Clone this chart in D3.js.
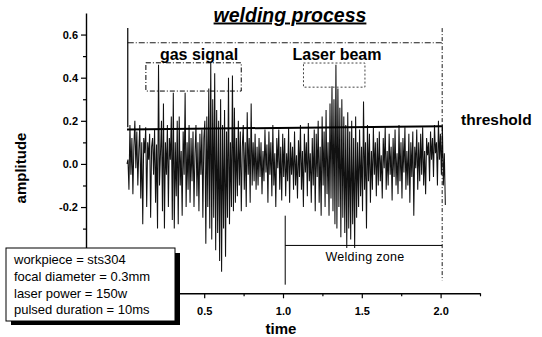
<!DOCTYPE html>
<html>
<head>
<meta charset="utf-8">
<script src="https://cdn.jsdelivr.net/npm/d3@7"></script>
<style>
  body { margin: 0; background: #fff; }
  svg text { font-family: "Liberation Sans", Arial, sans-serif; }
</style>
</head>
<body>
<div class="chart"></div>
<script>
const sampleStart = 0.01;
const sampleEnd = 2.03;
const amplitude = [
  0, 0.02, -0.12, 0.18, -0.05, 0.12, -0.14, 0.08, 0.20, -0.02, 0.15, -0.10, 0.06, 0.18, -0.16, 0.10,
  -0.28, 0.12, 0.05, 0.17, -0.20, 0.10, 0.02, 0.14, -0.25, 0.08, 0.12, -0.05, 0.16, -0.18, 0.09, -0.30,
  0.46, -0.10, 0.05, 0.20, -0.22, 0.28, -0.30, 0.10, -0.05, 0.18, -0.20, 0.12, 0.02, 0.22, -0.26, 0.33,
  -0.30, 0.10, -0.15, 0.20, -0.28, 0.22, -0.10, 0.06, -0.24, 0.15, -0.05, 0.33, -0.20, 0.10, -0.12, 0.18,
  -0.18, 0.12, -0.08, 0.15, -0.20, 0.05, 0.18, -0.15, 0.10, -0.22, 0.14, -0.05, 0.16, -0.25, 0.12, 0.20,
  -0.37, 0.22, -0.20, 0.35, -0.30, 0.47, -0.35, 0.30, -0.25, 0.42, -0.40, 0.25, -0.32, 0.20, -0.45, 0.30,
  -0.50, 0.18, -0.30, 0.25, -0.43, 0.15, -0.25, 0.40, -0.28, 0.10, -0.20, 0.41, -0.22, 0.26, -0.18, 0.12,
  -0.15, 0.20, -0.10, 0.15, -0.22, 0.08, 0.18, -0.12, 0.10, -0.20, 0.24, -0.05, 0.12, -0.18, 0.28, -0.10,
  0.10, -0.08, 0.14, -0.12, 0.08, -0.10, 0.12, -0.06, 0.10, -0.14, 0.06, -0.08, 0.16, -0.04, 0.09, -0.18,
  0.15, -0.05, 0.10, -0.15, 0.18, -0.10, 0.05, -0.20, 0.12, -0.02, 0.16, -0.12, 0.08, -0.17, 0.14, -0.06,
  0.12, -0.15, 0.05, -0.08, 0.17, -0.18, 0.10, -0.05, 0.08, -0.12, 0.15, -0.10, 0.04, -0.16, 0.11, -0.06,
  0.18, -0.12, 0.06, -0.20, 0.14, -0.04, 0.10, -0.15, 0.19, -0.08, 0.05, -0.18, 0.12, -0.10, 0.16, -0.22,
  0.14, -0.06, 0.20, -0.18, 0.08, -0.24, 0.22, -0.10, 0.15, -0.20, 0.25, -0.14, 0.10, -0.24, 0.28, -0.16,
  0.36, -0.22, 0.30, -0.28, 0.46, -0.30, 0.35, -0.20, 0.26, -0.34, 0.30, -0.25, 0.22, -0.32, 0.18, -0.39,
  0.24, -0.30, 0.15, -0.35, 0.20, -0.28, 0.12, -0.39, 0.22, -0.25, 0.10, -0.20, 0.16, -0.15, 0.08, -0.22,
  0.29, -0.12, 0.10, -0.30, 0.18, -0.08, 0.14, -0.18, 0.06, -0.12, 0.17, -0.05, 0.10, -0.15, 0.12, -0.10,
  0.15, -0.08, 0.04, -0.16, 0.12, -0.02, 0.17, -0.12, 0.06, -0.10, 0.14, -0.05, 0.08, -0.17, 0.12, -0.06,
  0.16, -0.10, 0.05, -0.14, 0.18, -0.08, 0.10, -0.16, 0.12, -0.04, 0.17, -0.12, 0.06, -0.10, 0.14, -0.18,
  0.10, -0.06, 0.15, -0.24, 0.08, -0.02, 0.16, -0.12, 0.10, -0.08, 0.14, -0.05, 0.17, -0.10, 0.06, -0.14,
  0.12, 0.04, 0.10, -0.08, 0.15, 0.02, 0.12, -0.06, 0.18, 0.05, 0.10, -0.10, 0.20, 0.02, 0.14, -0.05,
  0.18, -0.10, 0.05, -0.19
];

// threshold line end points (time, amplitude)
const thresholdTime = [0.01, 2.01];
const thresholdValue = [0.16, 0.175];

// axis ticks (labels only where the reference shows them, the rest sit under the info box)
const xMajorTicks = [0, 0.5, 1.0, 1.5, 2.0];
const xLabelled = [0.5, 1.0, 1.5, 2.0];
const xMinorTicks = [-0.25, 0.25, 0.75, 1.25, 1.75, 2.25];
const yMajorTicks = [-0.6, -0.4, -0.2, 0.0, 0.2, 0.4, 0.6];
const yLabelled = [-0.2, 0.0, 0.2, 0.4, 0.6];
const yMinorTicks = [-0.5, -0.3, -0.1, 0.1, 0.3, 0.5];

const infoLines = [
  'workpiece = sts304',
  'focal diameter = 0.3mm',
  'laser power = 150w',
  'pulsed duration = 10ms'
];

const width = 542, height = 337;

let svg = d3.select('.chart').append('svg')
  .attr('width', width)
  .attr('height', height);

let x = d3.scaleLinear().domain([-0.25, 2.25]).range([86, 480]);
let y = d3.scaleLinear().domain([-0.6, 0.7]).range([293.3, 13]);

let isLabelled = (list, d) => list.some((v) => Math.abs(v - d) < 1e-9);

// title
svg.append('text')
  .attr('x', 290).attr('y', 21.5)
  .attr('text-anchor', 'middle')
  .attr('font-size', 19.5).attr('font-weight', 'bold').attr('font-style', 'italic')
  .attr('text-decoration', 'underline')
  .text('welding process');

// axes
let xAxis = svg.append('g')
  .attr('transform', 'translate(0,' + y(-0.6) + ')')
  .call(d3.axisBottom(x).tickValues(xMajorTicks).tickSize(5).tickSizeOuter(0)
    .tickFormat((d) => isLabelled(xLabelled, d) ? d.toFixed(1) : ''));
svg.append('g')
  .attr('transform', 'translate(0,' + y(-0.6) + ')')
  .call(d3.axisBottom(x).tickValues(xMinorTicks).tickSize(3).tickFormat(''))
  .select('.domain').remove();

let yAxis = svg.append('g')
  .attr('transform', 'translate(' + x(-0.25) + ',0)')
  .call(d3.axisLeft(y).tickValues(yMajorTicks).tickSize(5).tickSizeOuter(0)
    .tickFormat((d) => isLabelled(yLabelled, d) ? d.toFixed(1) : ''));
svg.append('g')
  .attr('transform', 'translate(' + x(-0.25) + ',0)')
  .call(d3.axisLeft(y).tickValues(yMinorTicks).tickSize(3).tickFormat(''))
  .select('.domain').remove();

svg.selectAll('.domain').attr('stroke', '#000').attr('stroke-width', 1.4);
svg.selectAll('.tick line').attr('stroke', '#000').attr('stroke-width', 1.2);
svg.selectAll('.tick text')
  .attr('font-size', 11).attr('font-weight', 'bold')
  .attr('font-family', '"Liberation Sans", Arial, sans-serif')
  .attr('fill', '#000');
xAxis.selectAll('.tick text').attr('dy', '1.25em');

// axis labels
svg.append('text')
  .attr('x', 281).attr('y', 334)
  .attr('text-anchor', 'middle')
  .attr('font-size', 15).attr('font-weight', 'bold')
  .text('time');

svg.append('text')
  .attr('transform', 'translate(26,168)rotate(-90)')
  .attr('text-anchor', 'middle')
  .attr('font-size', 15).attr('font-weight', 'bold')
  .text('amplitude');

// signal
let step = (sampleEnd - sampleStart) / (amplitude.length - 1);
let line = d3.line()
  .x((d, i) => x(sampleStart + i * step))
  .y((d) => y(d));

svg.append('path')
  .datum(amplitude)
  .attr('d', line)
  .attr('fill', 'none')
  .attr('stroke', '#111')
  .attr('stroke-width', 1.05);

// region markers
svg.append('line')
  .attr('x1', x(0.015)).attr('x2', x(0.015))
  .attr('y1', y(0.63)).attr('y2', y(0.17))
  .attr('stroke', '#000').attr('stroke-width', 1.2);
svg.append('line')
  .attr('x1', x(0.015)).attr('x2', x(2.01))
  .attr('y1', y(0.562)).attr('y2', y(0.562))
  .attr('stroke', '#000').attr('stroke-width', 0.9)
  .attr('stroke-dasharray', '6,2,1,2');
svg.append('line')
  .attr('x1', x(2.01)).attr('x2', x(2.01))
  .attr('y1', y(0.63)).attr('y2', y(-0.54))
  .attr('stroke', '#000').attr('stroke-width', 0.9)
  .attr('stroke-dasharray', '4,2,1,2');

// gas signal box
svg.append('rect')
  .attr('x', x(0.13)).attr('y', y(0.469))
  .attr('width', x(0.735) - x(0.13)).attr('height', y(0.338) - y(0.469))
  .attr('fill', 'none').attr('stroke', '#000').attr('stroke-width', 1)
  .attr('stroke-dasharray', '5,2,1,2');
svg.append('text')
  .attr('x', 199).attr('y', 60)
  .attr('text-anchor', 'middle')
  .attr('font-size', 16).attr('font-weight', 'bold')
  .text('gas signal');

// laser beam box
svg.append('rect')
  .attr('x', x(1.13)).attr('y', y(0.468))
  .attr('width', x(1.52) - x(1.13)).attr('height', y(0.356) - y(0.468))
  .attr('fill', 'none').attr('stroke', '#444').attr('stroke-width', 1)
  .attr('stroke-dasharray', '2,2');
svg.append('text')
  .attr('x', 337).attr('y', 60)
  .attr('text-anchor', 'middle')
  .attr('font-size', 16).attr('font-weight', 'bold')
  .text('Laser beam');

// threshold
svg.append('line')
  .attr('x1', x(thresholdTime[0])).attr('x2', x(thresholdTime[1]))
  .attr('y1', y(thresholdValue[0])).attr('y2', y(thresholdValue[1]))
  .attr('stroke', '#000').attr('stroke-width', 2);
svg.append('text')
  .attr('x', 461).attr('y', 125)
  .attr('font-size', 15.5).attr('font-weight', 'bold')
  .text('threshold');

// welding zone
svg.append('path')
  .attr('d', 'M' + x(1.014) + ',' + y(-0.24) + 'V' + y(-0.56) +
    'M' + x(1.014) + ',' + y(-0.378) + 'H' + x(2.01))
  .attr('fill', 'none').attr('stroke', '#000').attr('stroke-width', 1);
svg.append('text')
  .attr('x', x(1.52)).attr('y', 261)
  .attr('text-anchor', 'middle')
  .attr('font-size', 12.5).attr('letter-spacing', 0.3)
  .text('Welding zone');

// info box with shadow
svg.append('rect')
  .attr('x', 11).attr('y', 253).attr('width', 169).attr('height', 72)
  .attr('fill', '#000');
svg.append('rect')
  .attr('x', 6).attr('y', 248).attr('width', 169).attr('height', 73)
  .attr('fill', '#fff').attr('stroke', '#000').attr('stroke-width', 1);
svg.selectAll('.info')
  .data(infoLines)
  .enter()
  .append('text')
    .attr('class', 'info')
    .attr('x', 14)
    .attr('y', (d, i) => 264 + i * 16.8)
    .attr('font-size', 13)
    .text((d) => d);
</script>
</body>
</html>
